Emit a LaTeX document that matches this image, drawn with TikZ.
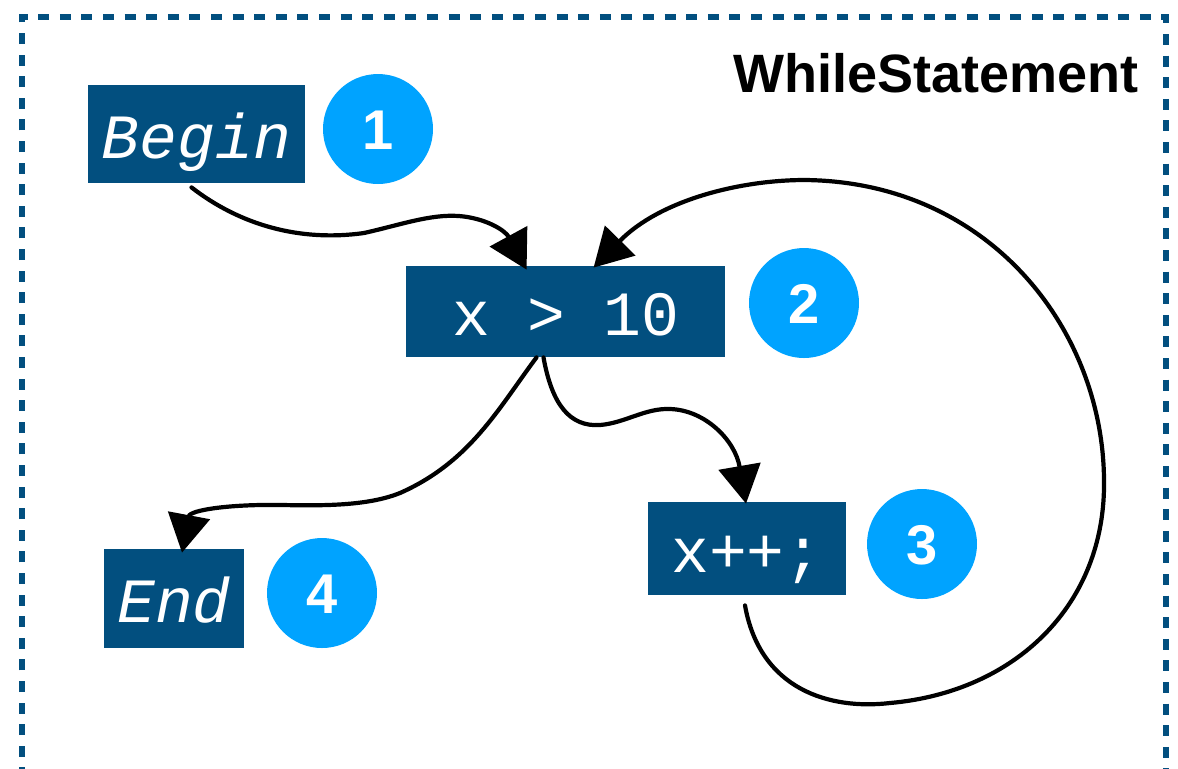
\documentclass[tikz,border=0pt]{standalone}
\usepackage{fontspec}
\setmainfont{Liberation Sans}
\newfontfamily\codefont{Liberation Mono}
\usetikzlibrary{arrows.meta,calc}
\definecolor{boxblue}{RGB}{2,79,127}
\definecolor{dotblue}{RGB}{0,163,255}
\begin{document}
\begin{tikzpicture}[x=0.5pt,y=-0.5pt,
  codebox/.style={fill=boxblue,text=white,inner sep=0pt,
    font=\codefont\fontsize{31.5}{36}\selectfont,text height=24pt,text depth=0pt},
  numdot/.style={circle,fill=dotblue,text=white,inner sep=0pt,minimum size=55pt,
    font=\bfseries\fontsize{28}{32}\selectfont,text height=20pt,text depth=0pt},
  flow/.style={line width=2.1pt,line cap=round,-{Triangle[length=19pt,width=21pt]}},
  framestyle/.style={draw=boxblue,line width=3pt,dash pattern=on 5.5pt off 5.3pt}]
\useasboundingbox (0,0) rectangle (1178,768);
\clip (0,0) rectangle (1178,768);
\draw[framestyle] (22,800) -- (22,17) -- (1166,17) -- (1166,800);

\node[anchor=base east,font=\bfseries\fontsize{27}{32}\selectfont] (title) at (1146,92) {WhileStatement};

\node[codebox,minimum width=108.5pt,minimum height=49pt] (begin) at (196.5,134) {\itshape Begin};
\node[numdot] (c1) at (378,129) {1};
\node[codebox,minimum width=159.5pt,minimum height=45.5pt] (cond) at (565.5,311.5) {x > 10};
\node[numdot] (c2) at (804,303) {2};
\node[codebox,minimum width=99pt,minimum height=46.5pt] (inc) at (747,548.5) {x++;};
\node[numdot] (c3) at (922,544) {3};
\node[codebox,minimum width=70pt,minimum height=49.5pt] (endn) at (174,598.5) {\itshape End};
\node[numdot] (c4) at (322,593) {4};

% Begin -> condition
\draw[flow] ($(begin.south)+(-5,4)$) .. controls (240,225) and (300,242) .. (364,233)
  .. controls (400,225) and (430,214) .. (459,216)
  .. controls (485,218) and (505,230) .. ($(cond.north west)+(121,4)$);

% condition -> End
\draw[flow] ($(cond.south)+(-29,0)$) .. controls (498,409) and (470,462) .. (400,493)
  .. controls (370,505) and (330,506) .. (283,505)
  .. controls (230,504) and (190,510) .. ($(endn.north)+(8,4)$);

% condition -> x++
\draw[flow] ($(cond.south)+(-22,0)$) .. controls (552,405) and (570,427) .. (600,425)
  .. controls (625,423) and (645,408) .. (670,409)
  .. controls (705,410) and (735,440) .. ($(inc.north)+(-1,2)$);

% x++ -> condition (loop)
\draw[flow] ($(inc.south)+(-2,10)$) .. controls (760,690) and (830,710) .. (890,703)
  .. controls (1015,692) and (1106,605) .. (1104,480)
  .. controls (1103,330) and (990,182) .. (805,180)
  .. controls (740,180) and (660,200) .. ($(cond.north west)+(188,2)$);
\end{tikzpicture}
\end{document}
